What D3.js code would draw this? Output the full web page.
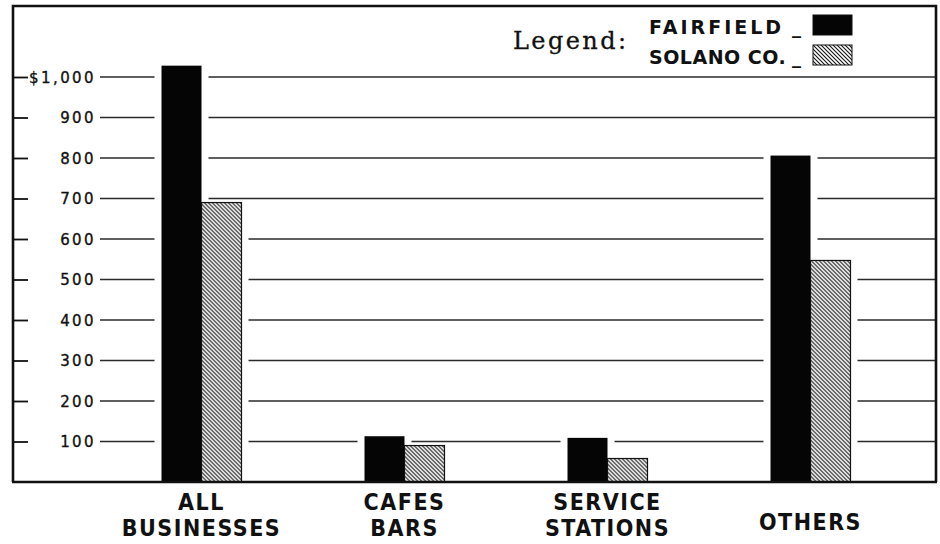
<!DOCTYPE html>
<html>
<head>
<meta charset="utf-8">
<script src="https://cdn.jsdelivr.net/npm/d3@7"></script>
<style>
  body { margin: 0; background: #fff; }
  svg { display: block; }
</style>
</head>
<body>
<svg id="chart"></svg>
<script>
// data
const categories = ["ALL BUSINESSES", "CAFES BARS", "SERVICE STATIONS", "OTHERS"];
const labelLines = [["ALL", "BUSINESSES"], ["CAFES", "BARS"], ["SERVICE", "STATIONS"], ["OTHERS"]];
const seriesNames = ["FAIRFIELD", "SOLANO CO."];
const fairfield = [1028, 113, 109, 806];
const solano = [690, 90, 58, 547];
const yTicks = [100, 200, 300, 400, 500, 600, 700, 800, 900, 1000];

const W = 940, H = 544;
const frame = { left: 13, top: 6, right: 936, bottom: 482 };
const gridStart = 100, gridEnd = 935, gap = 7;

const svg = d3.select("#chart").attr("width", W).attr("height", H);

// hatch pattern for Solano Co.
const defs = svg.append("defs");
defs.append("pattern")
  .attr("id", "hatch")
  .attr("patternUnits", "userSpaceOnUse")
  .attr("width", 4).attr("height", 4)
  .append("path")
  .attr("d", "M-1,-1 L5,5 M-1,3 L1,5 M3,-1 L5,1")
  .attr("stroke", "#111")
  .attr("stroke-width", 1.1);

const y = d3.scaleLinear().domain([0, 1000]).range([frame.bottom, 77]);

const x = d3.scaleBand()
  .domain(categories)
  .range([100, 912])
  .paddingInner(0.606)
  .paddingOuter(0.303);

const xSub = d3.scaleBand().domain(seriesNames).range([0, x.bandwidth()]);

const rows = categories.map((c, i) => ({ cat: c, lines: labelLines[i], values: [fairfield[i], solano[i]] }));

// gridlines, broken around bars that cross them
const gridG = svg.append("g");
yTicks.forEach(t => {
  let cuts = [];
  rows.forEach(r => {
    r.values.forEach((v, j) => {
      if (v > t) {
        const x0 = x(r.cat) + xSub(seriesNames[j]);
        cuts.push([x0 - gap, x0 + xSub.bandwidth() + gap]);
      }
    });
  });
  cuts.sort((a, b) => a[0] - b[0]);
  const merged = [];
  cuts.forEach(c => {
    if (merged.length && c[0] <= merged[merged.length - 1][1]) {
      merged[merged.length - 1][1] = Math.max(merged[merged.length - 1][1], c[1]);
    } else merged.push(c.slice());
  });
  let start = gridStart;
  const segs = [];
  merged.forEach(c => {
    if (c[0] > start) segs.push([start, c[0]]);
    start = Math.max(start, c[1]);
  });
  if (start < gridEnd) segs.push([start, gridEnd]);
  segs.forEach(s => {
    gridG.append("line")
      .attr("x1", s[0]).attr("x2", s[1])
      .attr("y1", y(t)).attr("y2", y(t))
      .attr("stroke", "#2a2a2a")
      .attr("stroke-width", 1.3);
  });
});

// bars
const groups = svg.append("g")
  .selectAll("g")
  .data(rows)
  .join("g")
  .attr("transform", d => `translate(${x(d.cat)},0)`);

groups.selectAll("rect")
  .data(d => d.values.map((v, j) => ({ key: seriesNames[j], value: v })))
  .join("rect")
  .attr("x", d => xSub(d.key))
  .attr("y", d => y(d.value))
  .attr("width", xSub.bandwidth())
  .attr("height", d => y(0) - y(d.value))
  .attr("fill", d => d.key === "FAIRFIELD" ? "#050505" : "url(#hatch)")
  .attr("stroke", "#111")
  .attr("stroke-width", d => d.key === "FAIRFIELD" ? 0 : 1.2);

// frame
svg.append("path")
  .attr("d", `M${frame.left},${frame.bottom} L${frame.left},${frame.top} L${frame.right},${frame.top} L${frame.right},${frame.bottom}`)
  .attr("fill", "none")
  .attr("stroke", "#111")
  .attr("stroke-width", 2.6);
svg.append("line")
  .attr("x1", frame.left - 1).attr("x2", frame.right + 1)
  .attr("y1", frame.bottom).attr("y2", frame.bottom)
  .attr("stroke", "#111")
  .attr("stroke-width", 2.6);

// y axis: short ticks on the frame plus labels
const yAxis = svg.append("g")
  .attr("transform", `translate(${frame.left + 15},0)`)
  .call(d3.axisLeft(y).tickValues(yTicks).tickSize(15).tickFormat(""));
yAxis.select(".domain").remove();
yAxis.selectAll(".tick line").attr("stroke", "#111").attr("stroke-width", 1.8);

svg.append("g")
  .selectAll("text")
  .data(yTicks)
  .join("text")
  .attr("x", 96)
  .attr("y", d => y(d) + 5.5)
  .attr("text-anchor", "end")
  .attr("font-family", "DejaVu Sans")
  .attr("font-size", 15)
  .attr("letter-spacing", 2.4)
  .attr("stroke", "#111")
  .attr("stroke-width", 0.35)
  .attr("fill", "#111")
  .text(d => d === 1000 ? "$1,000" : d);

// category labels
const labelG = svg.append("g")
  .attr("font-family", "'DejaVu Sans Condensed', 'DejaVu Sans'")
  .attr("font-weight", "bold")
  .attr("font-size", 23)
  .attr("letter-spacing", 1.5)
  .attr("fill", "#111")
  .attr("text-anchor", "middle");

rows.forEach(r => {
  const cx = x(r.cat) + x.bandwidth() / 2;
  const base = r.lines.length === 1 ? [530] : [510, 536];
  r.lines.forEach((ln, k) => {
    labelG.append("text")
      .attr("x", cx)
      .attr("y", base[k])
      .text(ln);
  });
});

// legend
svg.append("text")
  .attr("x", 513).attr("y", 49)
  .attr("font-family", "DejaVu Serif")
  .attr("font-size", 24)
  .attr("letter-spacing", 2.4)
  .attr("stroke", "#111")
  .attr("stroke-width", 0.3)
  .attr("fill", "#111")
  .text("Legend:");

const legendRows = [{ name: seriesNames[0], fill: "#050505", base: 34, box: 15 },
                    { name: seriesNames[1], fill: "url(#hatch)", base: 64, box: 45 }];
legendRows.forEach(l => {
  svg.append("text")
    .attr("x", 649).attr("y", l.base)
    .attr("font-family", "DejaVu Sans")
    .attr("font-weight", "bold")
    .attr("font-size", 19)
    .attr("letter-spacing", l.name === "FAIRFIELD" ? 3 : 0.5)
    .attr("fill", "#111")
    .text(l.name);
  svg.append("text")
    .attr("x", 792).attr("y", l.base)
    .attr("font-family", "DejaVu Sans")
    .attr("font-weight", "bold")
    .attr("font-size", 18)
    .attr("fill", "#111")
    .text("_");
  svg.append("rect")
    .attr("x", 813).attr("y", l.box)
    .attr("width", 39).attr("height", 20)
    .attr("fill", l.fill)
    .attr("stroke", "#111")
    .attr("stroke-width", 1);
});
</script>
</body>
</html>
